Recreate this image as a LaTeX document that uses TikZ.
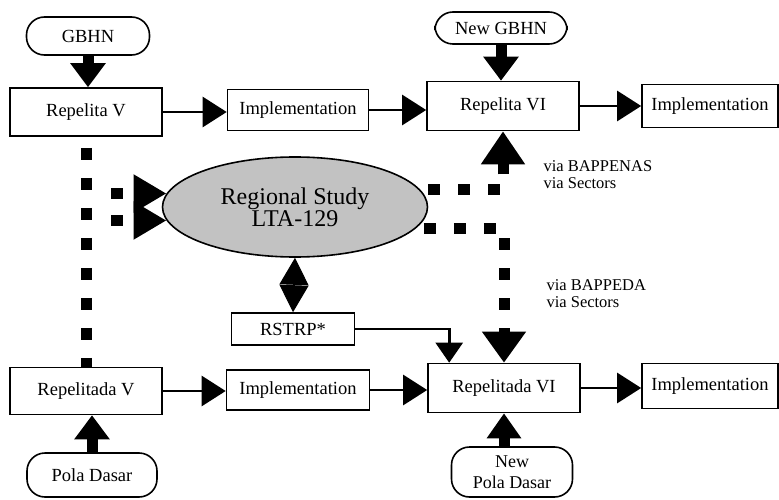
\documentclass[tikz,border=0pt]{standalone}
\usepackage{fontspec}
\setmainfont{Liberation Serif}
\usetikzlibrary{calc}
\usetikzlibrary{shapes.geometric}
\usetikzlibrary{arrows.meta}
\colorlet{study colour}{black!24}
\colorlet{frame colour}{black}
\tikzset{
    % Fonts used in the boxes and for the notes
    box font/.style={font=\fontsize{18.5}{21}\selectfont},
    note font/.style={font=\fontsize{16.5}{17}\selectfont},
%
    % Plain plan boxes and the rounded sources
    box/.style={draw=frame colour, line width=1.6pt, fill=white, rectangle,
        box font, inner sep=0pt},
    terminal/.style={box, rounded corners=18pt},
%
    % Next the lines
    flow/.style={line width=2.6pt,
        -{Triangle[width=30pt,length=24pt]}},
    feed/.style={line width=11pt,
        -{Triangle[width=34pt,length=24pt]}},
    link/.style={line width=11pt, dash pattern=on 12pt off 18pt},
    every node/.style={align=center},
}

\begin{document}
\begin{tikzpicture}[x=1pt, y=-1pt]
\useasboundingbox (0,0) rectangle (779,500);

% Plan boxes
\path
    (86,112) node (repV) [box, minimum width=152pt, minimum height=48pt] {Repelita V}
    (298,110) node (implA) [box, minimum width=141pt, minimum height=41pt] {Implementation}
    (503,106) node (repVI) [box, minimum width=152pt, minimum height=49pt] {Repelita VI}
    (710,106) node (implB) [box, minimum width=136pt, minimum height=43pt] {Implementation}
    (86,391) node (radV) [box, minimum width=152pt, minimum height=47pt] {Repelitada V}
    (298,390) node (implC) [box, minimum width=143pt, minimum height=40pt] {Implementation}
    (504,388) node (radVI) [box, minimum width=152pt, minimum height=49pt] {Repelitada VI}
    (710,386) node (implD) [box, minimum width=136pt, minimum height=45pt] {Implementation};

\path
    (88,36) node (gbhn) [terminal, minimum width=123pt, minimum height=38pt] {GBHN}
    (501,28) node (newgbhn) [terminal, minimum width=132pt, minimum height=32pt] {New GBHN}
    (92,475) node (pola) [terminal, minimum width=130pt, minimum height=44pt] {Pola Dasar}
    (512,472) node (newpola) [terminal, minimum width=121pt, minimum height=50pt,
        font=\fontsize{18}{21}\selectfont] {New\\Pola Dasar};

\path
    (295,207) node (study) [ellipse, draw, line width=1.6pt, fill=study colour,
        minimum width=265pt, minimum height=100pt, inner sep=0pt,
        font=\fontsize{24}{21}\selectfont] {Regional Study\\LTA-129}
    (293,329) node (rstrp) [box, minimum width=123pt, minimum height=32pt] {RSTRP*};

\path
    (540,175) node (bappenas) [anchor=west, align=left, note font]
        {via BAPPENAS\\via Sectors}
    (543,294) node (bappeda) [anchor=west, align=left, note font]
        {via BAPPEDA\\via Sectors};

% Dotted links round the study
\draw [link, dash phase=19pt] (repV.south) -- (radV.north);
\draw [link, -{Triangle[width=36pt,length=33pt]}]
    ($(study.174 -| repV.south)+(25,0)$) -- (study.174);
\draw [link, -{Triangle[width=36pt,length=33pt]}]
    ($(study.186 -| repV.south)+(25,0)$) -- (study.186);
\draw [link, dash phase=22pt, -{Triangle[width=42pt,length=33pt]}]
    (study.8) -| (repVI.south);
\draw [link, dash phase=22pt, -{Triangle[width=42pt,length=31pt]}]
    (study.350) -| (radVI.north);

% Sources
\draw [feed] (gbhn.south) -- (gbhn.south |- repV.north);
\draw [feed] (newgbhn.south) -- (newgbhn.south |- repVI.north);
\draw [feed] (pola.north) -- (pola.north |- radV.south);
\draw [feed, -{Triangle[width=33pt,length=25pt]}]
    (newpola.north -| radVI.south) -- (radVI.south);

% Plan flow
\draw [flow] (repV.east) -- (repV.east -| implA.west);
\draw [flow] (implA.east) -- (implA.east -| repVI.west);
\draw [flow] (repVI.east) -- (repVI.east -| implB.west);
\draw [flow] (radV.east) -- (radV.east -| implC.west);
\draw [flow] (implC.east) -- (implC.east -| radVI.west);
\draw [flow] (radVI.east) -- (radVI.east -| implD.west);

\draw [line width=1pt, {Triangle[width=29pt,length=27pt]}-{Triangle[width=29pt,length=27pt]}]
    (study.south) -- (rstrp.north);
\draw [flow, -{Triangle[width=27pt,length=20pt]}]
    (rstrp.east) -| ($(radVI.north west)+(22,0)$);

\end{tikzpicture}
\end{document}
